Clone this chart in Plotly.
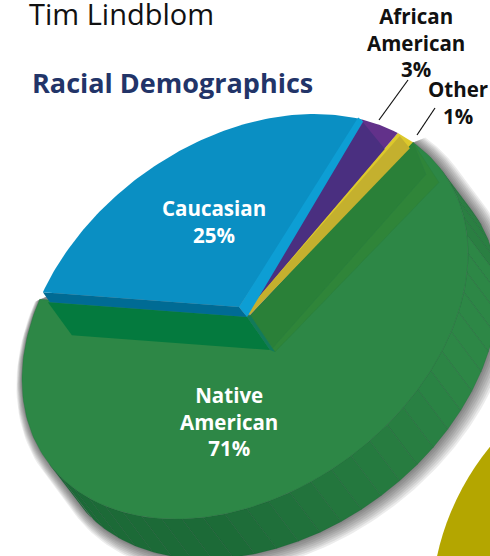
import numpy as np
import plotly.graph_objects as go

# ---- data ----
categories = ["Caucasian", "African American", "Other", "Native American"]
values = [25, 3, 1, 71]
top_colors = ["#0a8fc3", "#4a2f80", "#c4b02e", "#2d8746"]
rim_colors = ["#0a8fc3", "#62318a", "#ddc92c", "#2d8746"]

# ---- view geometry of the tilted disc ----
CX, CY = 245.0, 316.5
AX, BX, BY = 223.0, -63.0, 192.5      # affine ellipse
WALL = np.array([30.0, 40.0])
T0, K, PHI = -155.0, 11.2, 110.0      # start angle and perspective warp
THIN_SLICE_NUDGE = 1.3                # the thin slices are drawn a little fuller
CENTER = np.array([CX, CY])


def warp(theta):
    return T0 + theta + K * (np.sin(np.radians(theta - PHI)) + np.sin(np.radians(PHI)))


def rim(t):
    r = np.radians(np.atleast_1d(t))
    return np.column_stack([CX + AX * np.cos(r), CY + BX * np.cos(r) + BY * np.sin(r)])


def arc(t1, t2, n=80):
    return rim(np.linspace(t1, t2, n))


def lerp_hex(c1, c2, f):
    a = np.array([int(c1[i:i + 2], 16) for i in (1, 3, 5)])
    b = np.array([int(c2[i:i + 2], 16) for i in (1, 3, 5)])
    v = np.round(a + (b - a) * f).astype(int)
    return f"rgb({v[0]},{v[1]},{v[2]})"


fig = go.Figure()


def poly(points, fill, line=None, width=0.0, opacity=None):
    pts = np.vstack([np.asarray(p, float).reshape(-1, 2) for p in points])
    fig.add_trace(go.Scatter(
        x=np.r_[pts[:, 0], pts[0, 0]], y=np.r_[pts[:, 1], pts[0, 1]],
        mode="lines", fill="toself", fillcolor=fill,
        line=dict(color=line or fill, width=width if line else 0),
        opacity=opacity, hoverinfo="skip", showlegend=False))


cum = np.r_[0, np.cumsum(values)] / np.sum(values) * 360.0
t_edges = warp(cum)
t_edges[2] -= THIN_SLICE_NUDGE
T_TAN_R, T_TAN_L = -28.0, 152.0

# soft shadow under the green body
hull = np.vstack([arc(t_edges[3], T_TAN_R, 30),
                  arc(T_TAN_R, T_TAN_L, 120) + WALL,
                  arc(T_TAN_L, t_edges[4] - 2, 30)])
hc = np.array([260.0, 336.0])
for d in np.arange(12, 0, -1.5):
    poly([(hull - hc) * (1 + d / 260) + hc + np.array([d * 0.45, d * 0.35])],
         "rgba(0,0,0,0.075)")

# outer wall, cut in facets
facets = np.arange(T_TAN_R, T_TAN_L + 0.1, 5.6)
for a, b in zip(facets[:-1], facets[1:]):
    mid = (a + b) / 2
    if mid < -8:
        col = "rgb(42,127,66)"
    else:
        col = lerp_hex("#2d8746", "#1c6a37", float(np.clip((mid - 25) / 75, 0, 1)))
    poly([arc(a, b, 6), arc(b, a, 6) + WALL], col, line="rgba(20,80,45,0.35)", width=0.5)

# green top face
poly([CENTER + (5.5, -1), arc(t_edges[3], t_edges[4] - 2, 200)], top_colors[3],
     line="rgba(35,110,60,0.7)", width=0.5)

# see-through inner wall of the green slice, right edge
g0 = rim(t_edges[3])[0]
poly([g0, g0 + (26, 40), CENTER + (30, 35.5), CENTER + (5.5, -1)], "#2f8539",
     line="#2b7f3e", width=0.5)
poly([g0, g0 + (13, 32), CENTER + (28, 31), CENTER + (5.5, -1)], "#2a8038",
     line="#2b7d40", width=0.5)

# green inner wall, left edge
corner = rim(t_edges[0])[0]
poly([corner + (5, 10), corner + (29, 43), CENTER + (25, 33.5), CENTER + (2, 0.5)], "#047a3e")
poly([CENTER + (2, 0.5), CENTER + (5.5, -1), CENTER + (30, 35.5), CENTER + (25, 33.5)], "#127a5a")

# yellow slice
y_a1, y_a2 = CENTER + (1, -5.5), CENTER + (5, -2)
poly([y_a1, arc(t_edges[2], t_edges[3], 10), y_a2], rim_colors[2])
y_s, y_e = rim(t_edges[2])[0], rim(t_edges[3])[0]
poly([y_a1, y_s + (2, 3), y_e + (-3, 6), y_a2], top_colors[2])

# purple slice
p_a1, p_a2 = CENTER + (-1.5, -8), CENTER + (1, -5)
poly([p_a2, p_a1, arc(t_edges[1], t_edges[2], 14)], rim_colors[1])
p_s, p_e = rim(t_edges[1])[0], rim(t_edges[2])[0]
poly([p_a2, p_a1, p_s + (1, 3), p_e + (-13, 16)], top_colors[1])

# blue slice
b_apex = CENTER + (-6, -9.5)
b_e = rim(t_edges[1])[0]
poly([corner, corner + (7, 10), CENTER + (2, 0.5), b_apex], "#006b94")
poly([b_apex, arc(t_edges[0], t_edges[1], 100)], top_colors[0])
poly([b_apex, b_e + (-4, -2), b_e + (1, 2), CENTER + (2, 0.5)], "#0d9ed4")

fig.add_shape(type="circle", x0=431, x1=953, y0=351, y1=873,
              fillcolor="#b4a600", line=dict(width=0), layer="below")

fig.add_annotation(x=27, y=13, text="Tim Lindblom", showarrow=False, xanchor="left",
                   font=dict(family="Open Sans", size=29, color="#111111"))
fig.add_annotation(x=30, y=82, text="<b>Racial Demographics</b>", showarrow=False, xanchor="left",
                   font=dict(family="Open Sans", size=27, color="#223468"))
label_font = dict(family="Open Sans", size=20.5)
fig.add_annotation(x=416, y=42, text="<b>African<br>American<br>3%</b>", showarrow=False,
                   font=dict(label_font, color="#111111"))
fig.add_annotation(x=458, y=102, text="<b>Other<br>1%</b>", showarrow=False,
                   font=dict(label_font, color="#111111"))
fig.add_annotation(x=214, y=221, text="<b>Caucasian<br>25%</b>", showarrow=False,
                   font=dict(label_font, color="white"))
fig.add_annotation(x=229, y=421, text="<b>Native<br>American<br>71%</b>", showarrow=False,
                   font=dict(label_font, color="white"))

for (x0, y0, x1, y1) in [(408, 80, 379, 120), (435, 108, 417, 135)]:
    fig.add_shape(type="line", x0=x0, y0=y0, x1=x1, y1=y1, line=dict(color="#111111", width=1.2))

fig.update_layout(
    width=490, height=556, margin=dict(l=0, r=0, t=0, b=0),
    paper_bgcolor="white", plot_bgcolor="white",
    xaxis=dict(range=[0, 490], visible=False, fixedrange=True),
    yaxis=dict(range=[556, 0], visible=False, fixedrange=True),
)
fig.write_html("out.html", config=dict(displayModeBar=False),
               post_script="document.body.style.margin='0';document.body.style.overflow='hidden';")
